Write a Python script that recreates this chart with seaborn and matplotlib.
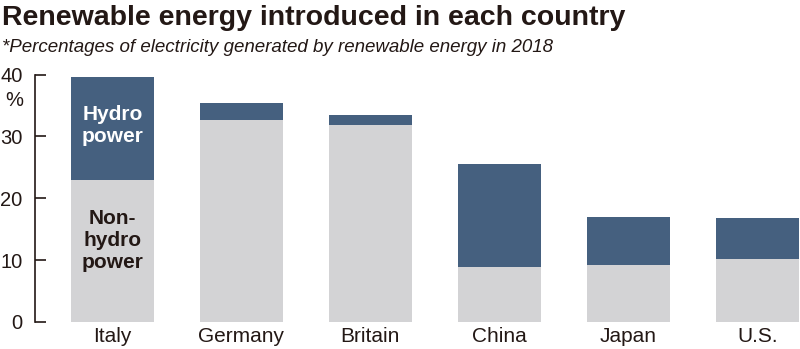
import matplotlib
matplotlib.use("Agg")
import matplotlib.pyplot as plt
import seaborn as sns
import pandas as pd

countries = ["Italy", "Germany", "Britain", "China", "Japan", "U.S."]
non_hydro = [22.9, 32.6, 31.9, 8.9, 9.2, 10.2]
hydro = [16.8, 2.8, 1.6, 16.6, 7.8, 6.6]
totals = [a + b for a, b in zip(non_hydro, hydro)]
yticks = [0, 10, 20, 30, 40]

sns.set_theme(style="white")
plt.rcParams["font.family"] = ["Liberation Sans", "DejaVu Sans"]

df = pd.DataFrame({"country": countries, "non_hydro": non_hydro, "total": totals})

fig = plt.figure(figsize=(8, 3.49), dpi=100)
ax = fig.add_axes([0.04375, 0.078, 0.95625, 0.708])

blue = "#45607f"
grey = "#d3d3d5"
ink = "#231815"
sns.barplot(data=df, x="country", y="total", color=blue, width=0.64,
            saturation=1, ax=ax, edgecolor="none")
sns.barplot(data=df, x="country", y="non_hydro", color=grey, width=0.64,
            saturation=1, ax=ax, edgecolor="none")

ax.set_xlim(-0.6, 5.33)
ax.set_ylim(0, 40)
ax.set_yticks(yticks)
ax.set_yticklabels([str(t) for t in yticks], fontsize=14.5, color=ink)
ax.tick_params(axis="y", direction="in", length=8, width=1.2, color=ink,
               pad=9, left=True)
ax.tick_params(axis="x", length=0, labelsize=15, labelcolor=ink, pad=4)
ax.set_xlabel("")
ax.set_ylabel("")
for s in ["top", "right", "bottom"]:
    ax.spines[s].set_visible(False)
ax.spines["left"].set_color(ink)
ax.spines["left"].set_linewidth(1.2)

fig.text(14 / 800, 1 - 100 / 349, "%", ha="center", va="center",
         fontsize=14.5, color=ink)

ax.text(0, 31.85, "Hydro\npower", ha="center",
        va="center", color="white", fontsize=15, fontweight="bold",
        linespacing=1.2)
ax.text(0, 13.1, "Non-\nhydro\npower", ha="center",
        va="center", color=ink, fontsize=15, fontweight="bold",
        linespacing=1.2)

fig.text(0.002, 0.948, "Renewable energy introduced in each country",
         fontsize=20.5, fontweight="bold", color=ink, va="center",
         ha="left")
fig.text(0.002, 0.863, "*Percentages of electricity generated by renewable energy in 2018",
         fontsize=13.5, fontstyle="italic", color=ink, va="center",
         ha="left")

fig.savefig("out.png", dpi=100)
